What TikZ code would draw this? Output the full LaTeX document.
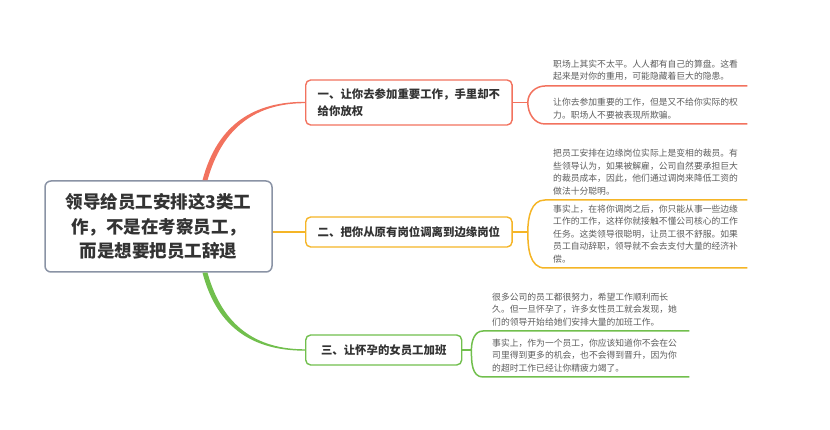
\documentclass[tikz,border=0pt]{standalone}
\usepackage{fontspec}
\setmainfont{Noto Sans CJK SC}
\usepackage{tikz}
\usetikzlibrary{positioning, calc}
\definecolor{rootGray}{HTML}{8A93A5}
\definecolor{mainText}{HTML}{333333}
\definecolor{noteText}{HTML}{5C5C5C}
\definecolor{brRed}{HTML}{F2725E}
\definecolor{brOrange}{HTML}{F5B526}
\definecolor{brGreen}{HTML}{71BF4D}

\begin{document}
\begin{tikzpicture}[x=1pt, y=1pt,
  root/.style={draw=rootGray, line width=1.5pt, rounded corners=6pt, fill=white, text=mainText,
    minimum width=227pt, minimum height=91pt, align=center, font=\fontsize{17.5}{24.5}\selectfont\bfseries},
  topic/.style={line width=1.4pt, rounded corners=5pt, fill=white, text=mainText, anchor=west,
    inner xsep=12pt, minimum height=30pt, align=left, font=\fontsize{11.4}{17}\selectfont\bfseries},
  note/.style={anchor=south west, align=left, text=noteText, inner xsep=8pt, inner ysep=5pt,
    text width=186pt, font=\fontsize{8.8}{12.5}\selectfont},
  link/.style={line width=1.5pt},
]
  \useasboundingbox (0,0) rectangle (830,430);

  % main topic and the three branches
  \node[root] (root) at (158.5,203.5) {领导给员工安排这3类工\\作，不是在考察员工，\\而是想要把员工辞退};
  \node[topic, draw=brRed, minimum height=45pt] (br1) at (305,327.5) {一、让你去参加重要工作，手里却不\\给你放权};
  \node[topic, draw=brOrange] (br2) at (305,198) {二、把你从原有岗位调离到边缘岗位};
  \node[topic, draw=brGreen, minimum width=156pt] (br3) at (305,80) {三、让怀孕的女员工加班};

  \coordinate (rootTop) at ([xshift=46.5pt]root.north);
  \coordinate (rootBot) at ([xshift=46.5pt]root.south);

  % tapered links from the main topic
  \fill[brRed] ([xshift=-2.5pt]rootTop) .. controls +(15,57) and +(-50,0) .. ([yshift=0.7pt]br1.west)
    -- ([yshift=-0.7pt]br1.west) .. controls +(-48,0) and +(15,54) .. ([xshift=2.5pt]rootTop) -- cycle;
  \fill[brGreen] ([xshift=-2.5pt]rootBot) .. controls +(15,-57) and +(-50,0) .. ([yshift=-0.7pt]br3.west)
    -- ([yshift=0.7pt]br3.west) .. controls +(-48,0) and +(15,-54) .. ([xshift=2.5pt]rootBot) -- cycle;
  \draw[brOrange, line width=2pt] (root.east |- br2.west) -- (br2.west);

  % notes
  \node[note] (n1a) at (545,344) {职场上其实不太平。人人都有自己的算盘。这看\\起来是对你的重用，可能隐藏着巨大的隐患。};
  \node[note] (n1b) at (545,306) {让你去参加重要的工作，但是又不给你实际的权\\力。职场人不要被表现所欺骗。};
  \node[note] (n2a) at (545,230) {把员工安排在边缘岗位实际上是变相的裁员。有\\些领导认为，如果被解雇，公司自然要承担巨大\\的裁员成本，因此，他们通过调岗来降低工资的\\做法十分聪明。};
  \node[note] (n2b) at (545,162) {事实上，在将你调岗之后，你只能从事一些边缘\\工作的工作，这样你就接触不懂公司核心的工作\\任务。这类领导很聪明，让员工很不舒服。如果\\员工自动辞职，领导就不会去支付大量的经济补\\偿。};
  \node[note, text width=188pt, inner xsep=9pt] (n3a) at (483,99) {很多公司的员工都很努力，希望工作顺利而长\\久。但一旦怀孕了，许多女性员工就会发现，她\\们的领导开始给她们安排大量的加班工作。};
  \node[note, text width=188pt, inner xsep=9pt] (n3b) at (483,53) {事实上，作为一个员工，你应该知道你不会在公\\司里得到更多的机会，也不会得到晋升，因为你\\的超时工作已经让你精疲力竭了。};

  \coordinate (j1) at ([xshift=15pt]br1.east);
  \coordinate (j2) at ([xshift=15pt]br2.east);
  \coordinate (j3) at ([xshift=9pt]br3.east);

  \draw[link, brRed] (br1.east) -- (j1);
  \draw[link, brRed] (j1) to[out=90, in=180] (n1a.south west) -- (n1a.south east);
  \draw[link, brRed] (j1) to[out=-90, in=180] (n1b.south west) -- (n1b.south east);

  \draw[link, brOrange] (br2.east) -- (j2);
  \draw[link, brOrange] (j2) to[out=90, in=180] (n2a.south west) -- (n2a.south east);
  \draw[link, brOrange] (j2) to[out=-90, in=180] (n2b.south west) -- (n2b.south east);

  \draw[link, brGreen] (br3.east) -- (j3);
  \draw[link, brGreen] (j3) to[out=90, in=180] (n3a.south west) -- (n3a.south east);
  \draw[link, brGreen] (j3) to[out=-90, in=180] (n3b.south west) -- (n3b.south east);
\end{tikzpicture}
\end{document}
